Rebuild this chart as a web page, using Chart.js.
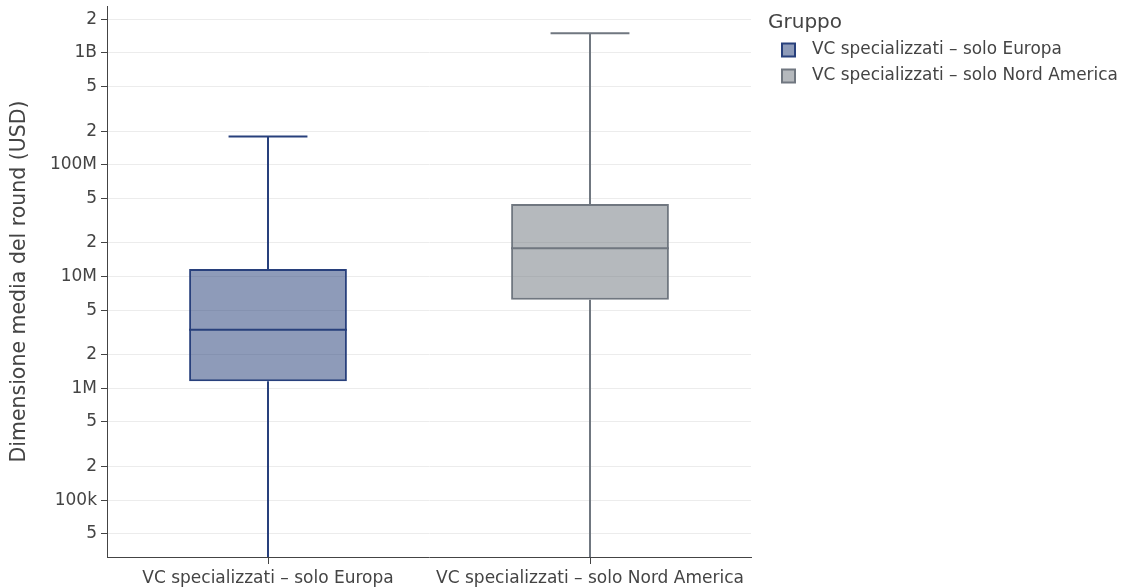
<!DOCTYPE html>
<html>
<head>
<meta charset="utf-8">
<script src="https://cdn.jsdelivr.net/npm/chart.js@4.4.1/dist/chart.umd.min.js"></script>
<style>
  html, body { margin: 0; padding: 0; background: #fff; }
  #wrap { width: 1126px; height: 588px; position: relative; }
</style>
</head>
<body>
<div id="wrap"><canvas id="c" width="1126" height="588"></canvas></div>
<script>
// Groups shown on the x axis and in the legend
const categories = ['VC specializzati – solo Europa', 'VC specializzati – solo Nord America'];
const seriesNames = ['VC specializzati – solo Europa', 'VC specializzati – solo Nord America'];

// Box statistics per group (USD)
const lowerWhisker = [10000, 10000];
const q1Values = [1155000, 6200000];
const medianValues = [3350000, 17900000];
const q3Values = [11700000, 44500000];
const upperWhisker = [179000000, 1500000000];

// Log axis ticks and their labels
const tickValues = [5e4, 1e5, 2e5, 5e5, 1e6, 2e6, 5e6, 1e7, 2e7, 5e7, 1e8, 2e8, 5e8, 1e9, 2e9];
const tickLabels = ['5', '100k', '2', '5', '1M', '2', '5', '10M', '2', '5', '100M', '2', '5', '1B', '2'];

const lineColors = ['rgb(40,64,124)', 'rgb(112,119,128)'];
const fillColors = ['rgba(30,56,116,0.5)', 'rgba(108,116,124,0.5)'];

const FONT = '"DejaVu Sans", Verdana, sans-serif';
Chart.defaults.font.family = FONT;
Chart.defaults.color = '#444';

const datasets = seriesNames.map((name, i) => ({
  label: name,
  data: categories.map((c, j) => (j === i ? [q1Values[i], q3Values[i]] : null)),
  backgroundColor: fillColors[i],
  borderColor: lineColors[i],
  borderWidth: 2,
  borderSkipped: false,
  grouped: false,
  barPercentage: 0.49,
  categoryPercentage: 1.0
}));

// Whiskers, caps and medians drawn through the chart's own scales
const boxExtras = {
  id: 'boxExtras',
  afterDatasetsDraw(chart) {
    const { ctx, chartArea, scales } = chart;
    const x = scales.x, y = scales.y;
    ctx.save();
    ctx.beginPath();
    ctx.rect(chartArea.left, chartArea.top, chartArea.right - chartArea.left, chartArea.bottom - chartArea.top);
    ctx.clip();
    datasets.forEach((ds, i) => {
      const bar = chart.getDatasetMeta(i).data[i];
      const cx = x.getPixelForValue(i);
      const half = bar.width / 2;
      const yQ1 = y.getPixelForValue(q1Values[i]);
      const yQ3 = y.getPixelForValue(q3Values[i]);
      const yMed = y.getPixelForValue(medianValues[i]);
      const yLo = y.getPixelForValue(lowerWhisker[i]);
      const yHi = y.getPixelForValue(upperWhisker[i]);
      ctx.strokeStyle = lineColors[i];
      ctx.lineWidth = 2;
      ctx.beginPath();
      ctx.moveTo(cx, yQ3); ctx.lineTo(cx, yHi);
      ctx.moveTo(cx - half / 2, yHi); ctx.lineTo(cx + half / 2, yHi);
      ctx.moveTo(cx, yQ1); ctx.lineTo(cx, yLo);
      ctx.moveTo(cx - half / 2, yLo); ctx.lineTo(cx + half / 2, yLo);
      ctx.moveTo(cx - half, yMed); ctx.lineTo(cx + half, yMed);
      ctx.stroke();
    });
    ctx.restore();
  }
};

// Legend with title on the right of the plot
const sideLegend = {
  id: 'sideLegend',
  afterDraw(chart) {
    const { ctx, chartArea } = chart;
    const x0 = chartArea.right + 17;
    ctx.save();
    ctx.fillStyle = '#444';
    ctx.textBaseline = 'middle';
    ctx.textAlign = 'left';
    ctx.font = '20px ' + FONT;
    ctx.fillText('Gruppo', x0, 23);
    ctx.font = '16.9px ' + FONT;
    seriesNames.forEach((name, i) => {
      const cy = 50 + i * 26;
      ctx.fillStyle = '#fff';
      ctx.fillRect(x0 + 14, cy - 6.5, 13, 13);
      ctx.fillStyle = fillColors[i];
      ctx.fillRect(x0 + 14, cy - 6.5, 13, 13);
      ctx.strokeStyle = lineColors[i];
      ctx.lineWidth = 2;
      ctx.strokeRect(x0 + 14, cy - 6.5, 13, 13);
      ctx.fillStyle = '#444';
      ctx.fillText(name, x0 + 44, cy);
    });
    ctx.restore();
  }
};

new Chart(document.getElementById('c'), {
  type: 'bar',
  data: { labels: categories, datasets },
  plugins: [boxExtras, sideLegend],
  options: {
    responsive: false,
    animation: false,
    layout: { padding: { top: 6, right: 375, left: 0, bottom: 0 } },
    plugins: { legend: { display: false }, tooltip: { enabled: false } },
    scales: {
      x: {
        type: 'category',
        offset: true,
        grid: { display: true, offset: false, drawOnChartArea: false, tickColor: '#444', tickLength: 7, tickWidth: 1 },
        border: { color: '#444', width: 1 },
        ticks: { font: { size: 17 }, color: '#444', padding: 4, maxRotation: 0 },
        afterFit(scale) { scale.height = 31; scale.paddingLeft = 0; scale.paddingRight = 0; }
      },
      y: {
        type: 'logarithmic',
        min: 31000,
        max: 2.63e9,
        afterBuildTicks(scale) { scale.ticks = tickValues.map(v => ({ value: v })); },
        grid: { color: '#ececec', tickColor: '#444', tickLength: 6, lineWidth: 1 },
        border: { color: '#444', width: 1 },
        ticks: {
          font: { size: 17 },
          color: '#444',
          padding: 4,
          autoSkip: false,
          callback: (v, i) => tickLabels[i]
        },
        title: {
          display: true,
          text: 'Dimensione media del round (USD)',
          font: { size: 20.5 },
          color: '#444',
          padding: { top: 7, bottom: 0 }
        },
        afterFit(scale) { scale.width = 107; scale.paddingTop = 0; scale.paddingBottom = 0; }
      }
    }
  }
});
</script>
</body>
</html>
